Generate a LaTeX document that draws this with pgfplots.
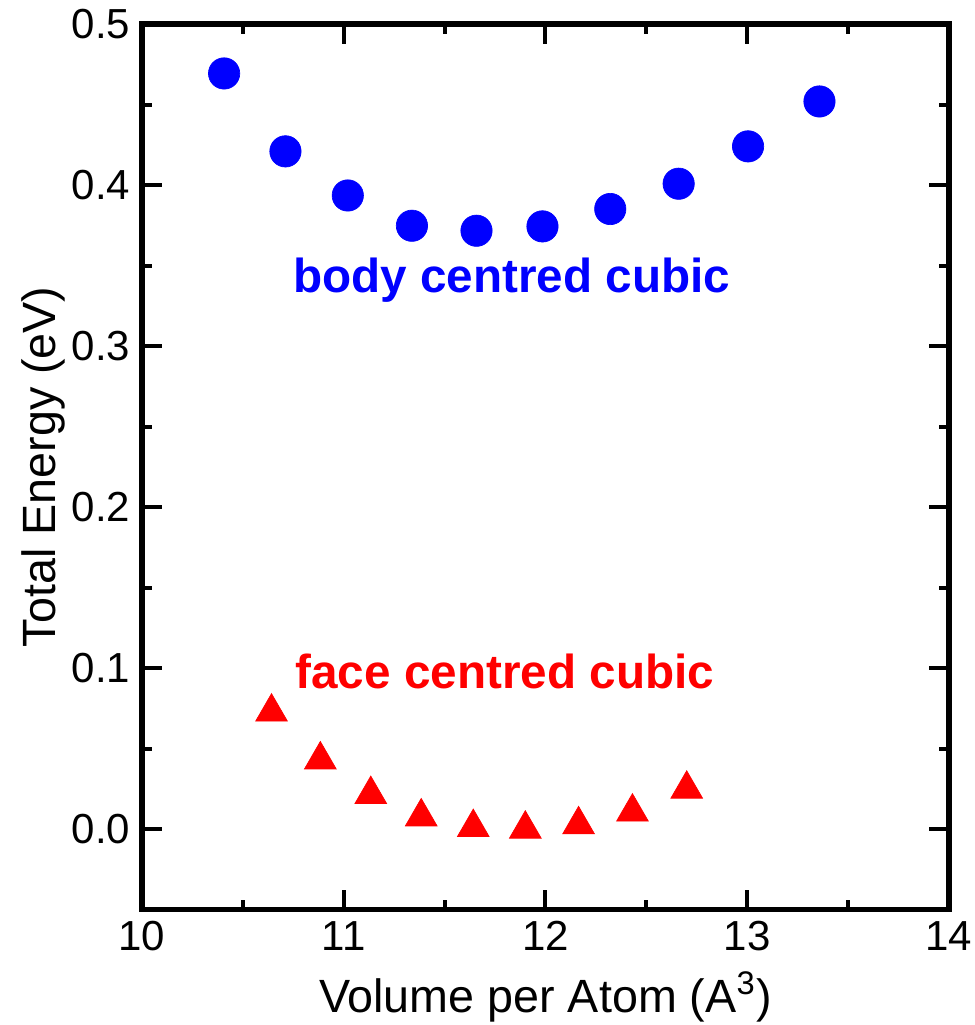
\documentclass[border=0pt]{standalone}
\usepackage{fontspec}
\setmainfont{Liberation Sans}
\usepackage{pgfplots}
\pgfplotsset{compat=1.18}

\definecolor{bccblue}{RGB}{0,0,255}
\definecolor{fccred}{RGB}{255,0,0}

% Total energy versus volume per atom for the two cubic phases
\pgfplotstableread{
vol     energy
10.407  0.4693
10.711  0.4209
11.020  0.3935
11.338  0.3747
11.658  0.3716
11.985  0.3743
12.321  0.3851
12.660  0.4008
13.004  0.4240
13.358  0.4519
}\bccdata

\pgfplotstableread{
vol     energy
10.642  0.0727
10.884  0.0430
11.134  0.0215
11.384  0.0076
11.642  0.0010
11.900  0.0000
12.164  0.0027
12.431  0.0106
12.700  0.0248
}\fccdata

\begin{document}
\begin{tikzpicture}
\useasboundingbox (-42.6pt,-34.65pt) rectangle (249.6pt,272.85pt);
\begin{axis}[
  at={(0pt,0pt)}, anchor=south west,
  scale only axis,
  width=242.1pt, height=265.65pt,
  xmin=10, xmax=14, ymin=-0.05, ymax=0.5,
  xtick={10,11,12,13,14},
  ytick={0,0.1,0.2,0.3,0.4,0.5},
  minor x tick num=1, minor y tick num=1,
  tick align=inside,
  major tick length=6pt, minor tick length=3pt,
  tick style={black, line width=1.2pt},
  axis line style={line width=1.6pt, line join=miter},
  /pgf/number format/assume math mode=true,
  ticklabel style={font=\fontsize{12.6}{15}\selectfont},
  yticklabel style={/pgf/number format/.cd, fixed, fixed zerofill, precision=1},
  xticklabel style={/pgf/number format/.cd, fixed, precision=0},
  label style={font=\fontsize{14}{17}\selectfont},
  xlabel={Volume per Atom (A\textsuperscript{3})},
  ylabel={Total Energy (eV)},
  xlabel style={at={(axis description cs:0.5,-0.1158)}, anchor=base},
  ylabel style={at={(axis description cs:-0.1078,0.5)}, anchor=base},
  clip=false,
]
\addplot[only marks, color=bccblue, mark=*, mark size=4.7pt,
  mark options={fill=bccblue, draw=bccblue, line width=0.2pt}]
  table[x=vol, y=energy] {\bccdata};
\addplot[only marks, color=fccred, mark=triangle*, mark size=5.5pt,
  mark options={fill=fccred, draw=fccred, line width=0.2pt}]
  table[x=vol, y=energy] {\fccdata};

\node[anchor=base west, inner sep=0pt, text=bccblue,
  font=\bfseries\fontsize{14.3}{17}\selectfont]
  at (axis cs:10.746,0.3331) {body centred cubic};
\node[anchor=base west, inner sep=0pt, text=fccred,
  font=\bfseries\fontsize{14.3}{17}\selectfont]
  at (axis cs:10.758,0.0871) {face centred cubic};
\end{axis}
\end{tikzpicture}
\end{document}
